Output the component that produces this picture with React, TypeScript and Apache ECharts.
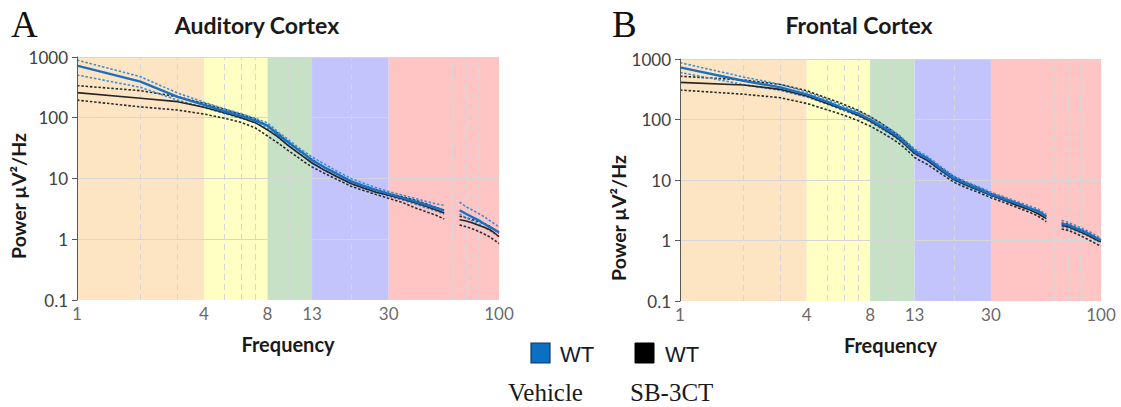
import React, { useEffect, useRef } from 'react';
import * as echarts from 'echarts';

// Frequencies (Hz); 60 Hz is the notch gap (null values)
const FREQ = [1, 2, 3, 4, 5, 6, 7, 8, 9, 10, 11, 12, 13, 15, 17, 20, 23, 26, 30, 35, 40, 45, 50, 55, 60, 65, 70, 75, 80, 85, 90, 95, 100];

// Auditory cortex
const AC_VEH_MEAN = [720, 392, 220, 163, 128, 107, 90, 74, 52, 40, 31, 25, 20, 15, 12, 8.9, 7.5, 6.5, 5.6, 4.8, 4.2, 3.7, 3.3, 2.95, null, 3.0, 2.6, 2.3, 2.05, 1.8, 1.6, 1.45, 1.3];
const AC_VEH_HI = [890, 474, 255, 180, 140, 117, 98, 82, 58, 44, 34, 27.5, 22.5, 17, 13.3, 9.9, 8.3, 7.1, 6.1, 5.3, 4.7, 4.2, 3.85, 3.6, null, 4.1, 3.4, 3.0, 2.65, 2.35, 2.05, 1.8, 1.6];
const AC_VEH_LO = [506, 317, 195, 148, 117, 98, 83, 67, 47, 36, 28, 22.5, 18, 13.5, 10.8, 8.1, 6.8, 5.9, 5.1, 4.4, 3.8, 3.3, 2.95, 2.6, null, 2.6, 2.25, 2.0, 1.8, 1.58, 1.4, 1.25, 1.1];
const AC_SB_MEAN = [259, 210, 184, 149, 121, 100, 83, 63, 48, 35, 27.5, 22, 18, 13.5, 10.8, 8.2, 6.9, 6.0, 5.3, 4.6, 4.0, 3.5, 3.05, 2.7, null, 2.1, 2.0, 1.85, 1.7, 1.58, 1.45, 1.28, 1.1];
const AC_SB_HI = [338, 279, 222, 172, 138, 114, 95, 73, 55, 40, 31, 25, 20.5, 15, 12, 9.0, 7.5, 6.5, 5.7, 5.0, 4.4, 3.85, 3.35, 3.0, null, 2.4, 2.25, 2.1, 1.95, 1.8, 1.65, 1.45, 1.25];
const AC_SB_LO = [195, 151, 134, 115, 98, 84, 68, 50, 38, 29, 23, 18.5, 15.5, 12, 9.7, 7.4, 6.3, 5.5, 4.7, 4.0, 3.3, 2.85, 2.5, 2.15, null, 1.72, 1.6, 1.48, 1.35, 1.22, 1.1, 0.97, 0.85];

// Frontal cortex
const FC_VEH_MEAN = [728, 437, 340, 260, 197, 152, 126, 100, 78, 63, 50, 38, 29.5, 22.6, 16.1, 10.6, 8.6, 7.2, 5.8, 4.8, 4.1, 3.5, 3.1, 2.5, null, 1.9, 1.79, 1.62, 1.48, 1.35, 1.22, 1.1, 1.0];
const FC_VEH_HI = [869, 505, 380, 285, 215, 166, 138, 110, 86, 69, 55, 42, 32.5, 24.5, 17.6, 11.6, 9.3, 7.8, 6.3, 5.2, 4.4, 3.8, 3.35, 2.7, null, 2.15, 2.0, 1.8, 1.63, 1.48, 1.34, 1.2, 1.08];
const FC_VEH_LO = [600, 378, 302, 236, 180, 140, 115, 91, 71, 57, 45, 34.5, 27, 20.8, 14.8, 9.8, 7.9, 6.7, 5.4, 4.45, 3.8, 3.25, 2.87, 2.3, null, 1.7, 1.6, 1.47, 1.35, 1.23, 1.11, 1.0, 0.92];
const FC_SB_MEAN = [411, 372, 315, 244, 184, 147, 118, 94, 74, 59, 47, 36, 27.5, 21, 15.2, 10.2, 8.2, 6.9, 5.6, 4.6, 3.8, 3.3, 2.8, 2.3, null, 1.79, 1.68, 1.52, 1.38, 1.26, 1.14, 1.03, 0.95];
const FC_SB_HI = [520, 450, 380, 300, 225, 178, 142, 112, 87, 68, 53, 40.5, 30.5, 23, 16.6, 11.2, 9.0, 7.5, 6.0, 4.95, 4.1, 3.55, 3.0, 2.5, null, 1.95, 1.85, 1.67, 1.52, 1.38, 1.25, 1.13, 1.05];
const FC_SB_LO = [307, 262, 229, 184, 145, 118, 96, 78, 62, 50, 40, 31, 23.5, 18, 13.4, 9.2, 7.4, 6.3, 5.1, 4.2, 3.5, 3.0, 2.55, 2.05, null, 1.55, 1.47, 1.33, 1.2, 1.08, 0.97, 0.88, 0.8];

// Frequency bands and axis ticks
const BAND_EDGES = [1, 4, 8, 13, 30, 100];
const BAND_COLORS = ['#FDE5C4', '#FFFFC4', '#C6E1C6', '#C4C4FC', '#FFC4C4'];
const X_TICKS = [1, 4, 8, 13, 30, 100];
const X_MINOR = [2, 3, 5, 6, 7, 10, 20, 40, 50, 60, 70, 80, 90];
const Y_GRID = [1, 10, 100, 1000];

const TITLES = ['Auditory Cortex', 'Frontal Cortex'];
const PANEL_LETTERS = ['A', 'B'];

const SANS = 'Lato, "Open Sans", sans-serif';
const SERIF = '"Liberation Serif", "DejaVu Serif", serif';

const GRIDS = [
  { left: 77, top: 57, width: 422, height: 243 },
  { left: 680, top: 59, width: 421, height: 242 },
];

function pairs(vals: (number | null)[]) {
  return FREQ.map((f, i) => [f, vals[i] == null ? '-' : vals[i]]);
}

function panelSeries(idx: number, d: (number | null)[][]) {
  const [vm, vh, vl, sm, sh, sl] = d;
  const base = { type: 'line', xAxisIndex: idx, yAxisIndex: idx, showSymbol: false, symbol: 'none', silent: true, connectNulls: false, z: 3 };
  const dot = [2.5, 1.8];
  return [
    {
      type: 'line', xAxisIndex: idx, yAxisIndex: idx, data: [], silent: true,
      markArea: {
        silent: true, z: 1,
        data: BAND_COLORS.map((c, i) => [
          { xAxis: BAND_EDGES[i], itemStyle: { color: c } },
          { xAxis: BAND_EDGES[i + 1] },
        ]),
      },
      markLine: {
        silent: true, z: 2, symbol: ['none', 'none'], label: { show: false },
        lineStyle: { color: '#D6D6D6', type: [6, 4], width: 1 },
        data: [
          ...X_MINOR.map((v) => ({ xAxis: v })),
          ...Y_GRID.map((v) => ({ yAxis: v, lineStyle: { color: '#D6D6D6', type: 'solid', width: 1 } })),
        ],
      },
    },
    {
      type: 'scatter', xAxisIndex: idx, yAxisIndex: idx, silent: true, clip: false, symbolSize: 0,
      data: X_TICKS.map((v) => [v, 0.1]),
      label: {
        show: true, position: 'bottom', distance: 5, color: '#404040', fontSize: 17, fontFamily: SANS,
        formatter: (p: any) => String(p.value[0]),
      },
    },
    { ...base, data: pairs(sh), lineStyle: { color: '#2b2b2b', width: 1.6, type: dot } },
    { ...base, data: pairs(sl), lineStyle: { color: '#2b2b2b', width: 1.6, type: dot } },
    { ...base, data: pairs(vh), lineStyle: { color: '#3E8FD6', width: 1.6, type: dot } },
    { ...base, data: pairs(vl), lineStyle: { color: '#3E8FD6', width: 1.6, type: dot } },
    { ...base, data: pairs(sm), lineStyle: { color: '#262626', width: 1.6 } },
    { ...base, data: pairs(vm), lineStyle: { color: '#1B6FC2', width: 2.4 } },
  ];
}

export default function App() {
  const ref = useRef<HTMLDivElement>(null);
  useEffect(() => {
    if (!ref.current) return;
    const chart = echarts.init(ref.current, undefined, { renderer: 'svg' });
    const xAxes = GRIDS.map((_, i) => ({
      type: 'log', gridIndex: i, min: 1, max: 100, logBase: 10,
      axisLine: { show: false }, axisTick: { show: false }, axisLabel: { show: false }, splitLine: { show: false },
      name: 'Frequency', nameLocation: 'middle', nameGap: 34,
      nameTextStyle: { fontFamily: SANS, fontWeight: 'bold', fontSize: 20, color: '#1a1a1a' },
    }));
    const yAxes = GRIDS.map((_, i) => ({
      type: 'log', gridIndex: i, min: 0.1, max: 1000, logBase: 10, z: 4,
      axisLine: { show: true, lineStyle: { color: '#595959', width: 1 } },
      axisTick: { show: true, length: 5, lineStyle: { color: '#595959' } },
      axisLabel: { color: '#404040', fontSize: 17, fontFamily: SANS, margin: 9, formatter: (v: number) => String(v) },
      splitLine: { show: false },
    }));
    const graphics: any[] = [];
    const titleX = [257, 859];
    const letterX = [11, 612];
    const yNamePos = [[18, 196], [618, 218]];
    for (let i = 0; i < 2; i++) {
      graphics.push({ type: 'text', x: titleX[i], y: 25, style: { text: TITLES[i], fontFamily: SANS, fontWeight: 'bold', fontSize: 23, fill: '#1a1a1a', align: 'center', verticalAlign: 'middle' } });
      graphics.push({ type: 'text', x: letterX[i], y: 24, style: { text: PANEL_LETTERS[i], fontFamily: SERIF, fontSize: 37, fill: '#111', align: 'left', verticalAlign: 'middle' } });
      graphics.push({ type: 'text', x: yNamePos[i][0], y: yNamePos[i][1], rotation: Math.PI / 2, style: { text: 'Power µV²/Hz', fontFamily: SANS, fontWeight: 'bold', fontSize: 19.5, fill: '#1a1a1a', align: 'center', verticalAlign: 'middle' } });
    }
    // legend
    graphics.push({ type: 'rect', shape: { x: 531, y: 343, width: 19, height: 20 }, style: { fill: '#0B6FC4', stroke: '#17375E', lineWidth: 1.2 } });
    graphics.push({ type: 'text', x: 560, y: 354, style: { text: 'WT', fontFamily: '"Liberation Sans", Arial, sans-serif', fontSize: 22, fill: '#14192b', verticalAlign: 'middle' } });
    graphics.push({ type: 'rect', shape: { x: 635, y: 343, width: 19, height: 20 }, style: { fill: '#000000', stroke: '#000000', lineWidth: 1 } });
    graphics.push({ type: 'text', x: 665, y: 354, style: { text: 'WT', fontFamily: '"Liberation Sans", Arial, sans-serif', fontSize: 22, fill: '#14192b', verticalAlign: 'middle' } });
    graphics.push({ type: 'text', x: 508, y: 392, style: { text: 'Vehicle', fontFamily: SERIF, fontSize: 25, fill: '#1a1a1a', verticalAlign: 'middle' } });
    graphics.push({ type: 'text', x: 630, y: 392, style: { text: 'SB-3CT', fontFamily: SERIF, fontSize: 25, fill: '#1a1a1a', verticalAlign: 'middle' } });

    chart.setOption({
      animation: false,
      backgroundColor: '#ffffff',
      grid: GRIDS,
      xAxis: xAxes,
      yAxis: yAxes,
      graphic: graphics,
      series: [
        ...panelSeries(0, [AC_VEH_MEAN, AC_VEH_HI, AC_VEH_LO, AC_SB_MEAN, AC_SB_HI, AC_SB_LO]),
        ...panelSeries(1, [FC_VEH_MEAN, FC_VEH_HI, FC_VEH_LO, FC_SB_MEAN, FC_SB_HI, FC_SB_LO]),
      ],
    });
    return () => chart.dispose();
  }, []);
  return <div ref={ref} style={{ position: 'fixed', left: 0, top: 0, width: 1121, height: 407 }} />;
}
